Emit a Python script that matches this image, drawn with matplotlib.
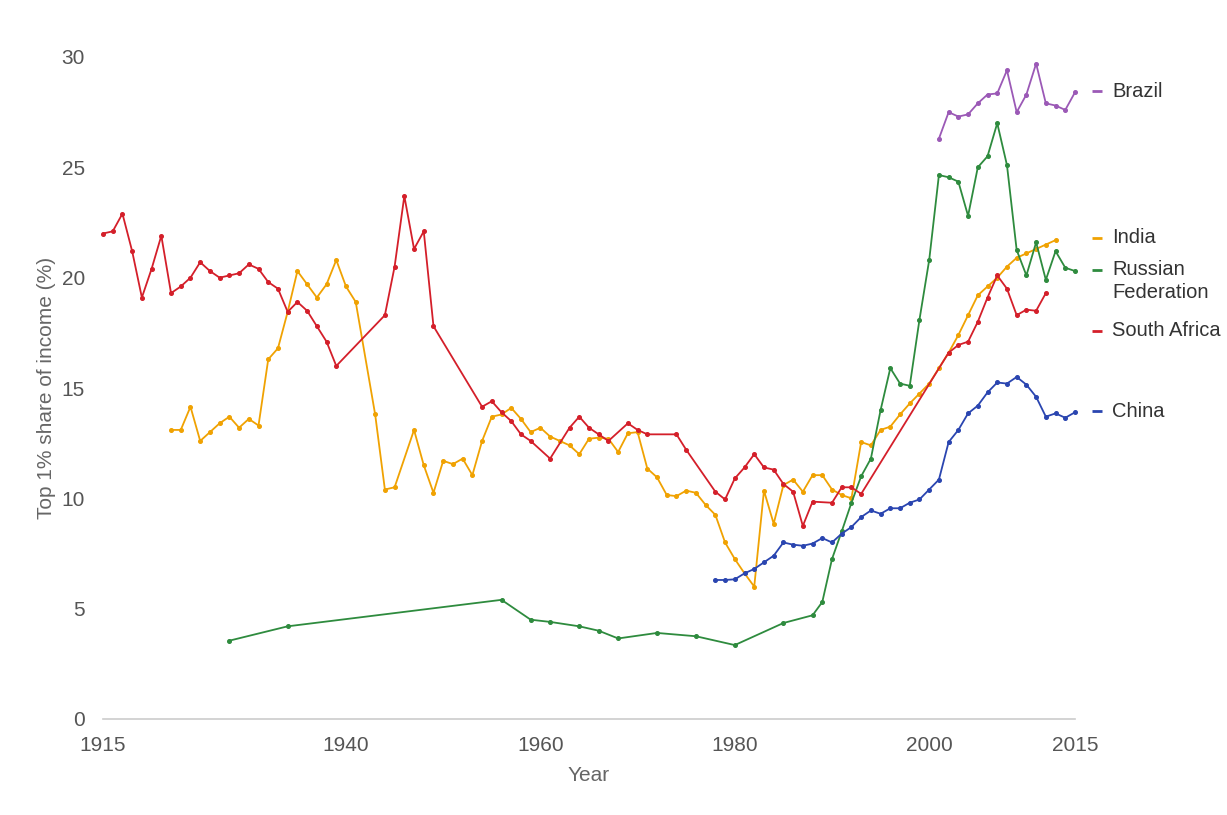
import matplotlib
matplotlib.use("Agg")
from matplotlib import pyplot as plt

plt.rcParams['font.family'] = ['Liberation Sans', 'DejaVu Sans']

# ---- data (top 1% share of income, %) ----
brazil_years = list(range(2001, 2016))
brazil_vals = [26.3, 27.5, 27.3, 27.4, 27.9, 28.3, 28.35, 29.4, 27.5, 28.3,
               29.7, 27.9, 27.8, 27.6, 28.4]

india_years = [1922, 1923, 1924, 1925, 1926, 1927, 1928, 1929, 1930, 1931,
               1932, 1933, 1934, 1935, 1936, 1937, 1938, 1939, 1940, 1941,
               1943, 1944, 1945, 1947, 1948, 1949, 1950, 1951, 1952, 1953,
               1954, 1955, 1956, 1957, 1958, 1959, 1960, 1961, 1962, 1963,
               1964, 1965, 1966, 1967, 1968, 1969, 1970, 1971, 1972, 1973,
               1974, 1975, 1976, 1977, 1978, 1979, 1980, 1981, 1982, 1983,
               1984, 1985, 1986, 1987, 1988, 1989, 1990, 1991, 1992, 1993,
               1994, 1995, 1996, 1997, 1998, 1999, 2000, 2001, 2002, 2003,
               2004, 2005, 2006, 2007, 2008, 2009, 2010, 2011, 2012, 2013]
india_vals = [13.1, 13.1, 14.15, 12.6, 13.0, 13.4, 13.7, 13.2, 13.6, 13.3,
              16.3, 16.8, 18.45, 20.3, 19.7, 19.1, 19.7, 20.8, 19.6, 18.9,
              13.8, 10.4, 10.5, 13.1, 11.5, 10.25, 11.7, 11.55, 11.8, 11.05,
              12.6, 13.7, 13.8, 14.1, 13.6, 13.0, 13.2, 12.8, 12.6, 12.4,
              12.0, 12.7, 12.75, 12.7, 12.1, 12.95, 13.0, 11.35, 10.95, 10.15,
              10.1, 10.35, 10.25, 9.7, 9.25, 8.0, 7.25, 6.6, 6.0, 10.35,
              8.85, 10.6, 10.85, 10.3, 11.05, 11.05, 10.4, 10.15, 10.0, 12.55,
              12.4, 13.1, 13.25, 13.8, 14.3, 14.75, 15.2, 15.9, 16.6, 17.4,
              18.3, 19.2, 19.6, 20.0, 20.5, 20.9, 21.1, 21.3, 21.5, 21.7]

russia_years = [1928, 1934, 1956, 1959, 1961, 1964, 1966, 1968, 1972, 1976,
                1980, 1985, 1988, 1989, 1990, 1991, 1992, 1993, 1994, 1995,
                1996, 1997, 1998, 1999, 2000, 2001, 2002, 2003, 2004, 2005,
                2006, 2007, 2008, 2009, 2010, 2011, 2012, 2013, 2014, 2015]
russia_vals = [3.55, 4.2, 5.4, 4.5, 4.4, 4.2, 4.0, 3.65, 3.9, 3.75,
               3.35, 4.35, 4.7, 5.3, 7.25, 8.5, 9.8, 11.0, 11.8, 14.0,
               15.9, 15.2, 15.1, 18.1, 20.8, 24.65, 24.55, 24.35, 22.8, 25.0,
               25.5, 27.0, 25.1, 21.25, 20.1, 21.6, 19.9, 21.2, 20.45, 20.3]

sa_years = [1915, 1916, 1917, 1918, 1919, 1920, 1921, 1922, 1923, 1924,
            1925, 1926, 1927, 1928, 1929, 1930, 1931, 1932, 1933, 1934,
            1935, 1936, 1937, 1938, 1939, 1944, 1945, 1946, 1947, 1948,
            1949, 1954, 1955, 1956, 1957, 1958, 1959, 1961, 1963, 1964,
            1965, 1966, 1967, 1969, 1970, 1971, 1974, 1975, 1978, 1979,
            1980, 1981, 1982, 1983, 1984, 1985, 1986, 1987, 1988, 1990,
            1991, 1992, 1993, 2002, 2003, 2004, 2005, 2006, 2007, 2008,
            2009, 2010, 2011, 2012]
sa_vals = [22.0, 22.1, 22.9, 21.2, 19.1, 20.4, 21.9, 19.3, 19.6, 20.0,
           20.7, 20.3, 20.0, 20.1, 20.2, 20.6, 20.4, 19.8, 19.5, 18.45,
           18.9, 18.5, 17.8, 17.1, 16.0, 18.3, 20.5, 23.7, 21.3, 22.1,
           17.8, 14.15, 14.4, 13.9, 13.5, 12.9, 12.6, 11.8, 13.2, 13.7,
           13.2, 12.9, 12.6, 13.4, 13.1, 12.9, 12.9, 12.2, 10.3, 9.95,
           10.9, 11.4, 12.0, 11.4, 11.3, 10.65, 10.3, 8.75, 9.85, 9.8,
           10.5, 10.5, 10.2, 16.6, 16.95, 17.1, 18.0, 19.1, 20.1, 19.5,
           18.3, 18.55, 18.5, 19.3]

china_years = list(range(1978, 2016))
china_vals = [6.3, 6.3, 6.33, 6.6, 6.8, 7.1, 7.4, 8.0, 7.9, 7.85,
              7.95, 8.2, 8.0, 8.4, 8.7, 9.15, 9.45, 9.3, 9.55, 9.55,
              9.8, 9.95, 10.4, 10.85, 12.55, 13.1, 13.85, 14.2, 14.8, 15.25,
              15.2, 15.5, 15.15, 14.6, 13.7, 13.85, 13.65, 13.9]

# name, years, values, colour, y of the end label (spread apart)
series = [
    ("Brazil", brazil_years, brazil_vals, "#9b59b6", 28.45),
    ("India", india_years, india_vals, "#f0a202", 21.8),
    ("Russian\nFederation", russia_years, russia_vals, "#2e8b3e", 20.35),
    ("South Africa", sa_years, sa_vals, "#d41f2a", 17.6),
    ("China", china_years, china_vals, "#2a45b0", 13.95),
]

fig = plt.figure(figsize=(12.27, 8.15), dpi=100)
ax = fig.add_axes([103 / 1227, (815 - 719) / 815, 972 / 1227, 662 / 815])

for name, yrs, vals, col, ly in series:
    ax.plot(yrs, vals, color=col, lw=1.3, marker='o', ms=2.6, mec=col, mfc=col,
            clip_on=False)
    ax.plot([2016.8, 2017.8], [ly, ly], color=col, lw=2, clip_on=False,
            solid_capstyle='butt')
    if '\n' in name:
        ax.text(2018.8, ly + 0.47, name, color='#333333', fontsize=14.5,
                va='top', ha='left', linespacing=1.3)
    else:
        ax.text(2018.8, ly, name, color='#333333', fontsize=14.5,
                va='center', ha='left')

ax.set_xlim(1915, 2015)
ax.set_ylim(0, 30)
ax.set_xticks([1915, 1940, 1960, 1980, 2000, 2015])
ax.set_yticks([0, 5, 10, 15, 20, 25, 30])

for s in ['top', 'right', 'left']:
    ax.spines[s].set_visible(False)
ax.spines['bottom'].set_color('#cccccc')
ax.spines['bottom'].set_linewidth(1.2)
ax.tick_params(axis='both', length=0, labelsize=15, labelcolor='#555555')
ax.tick_params(axis='x', pad=12)
ax.tick_params(axis='y', pad=13)

ax.set_xlabel("Year", fontsize=15, color='#666666', labelpad=8)
ax.set_ylabel("Top 1% share of income (%)", fontsize=15, color='#666666',
              labelpad=4)

fig.savefig("out.png", dpi=100, facecolor='white')
